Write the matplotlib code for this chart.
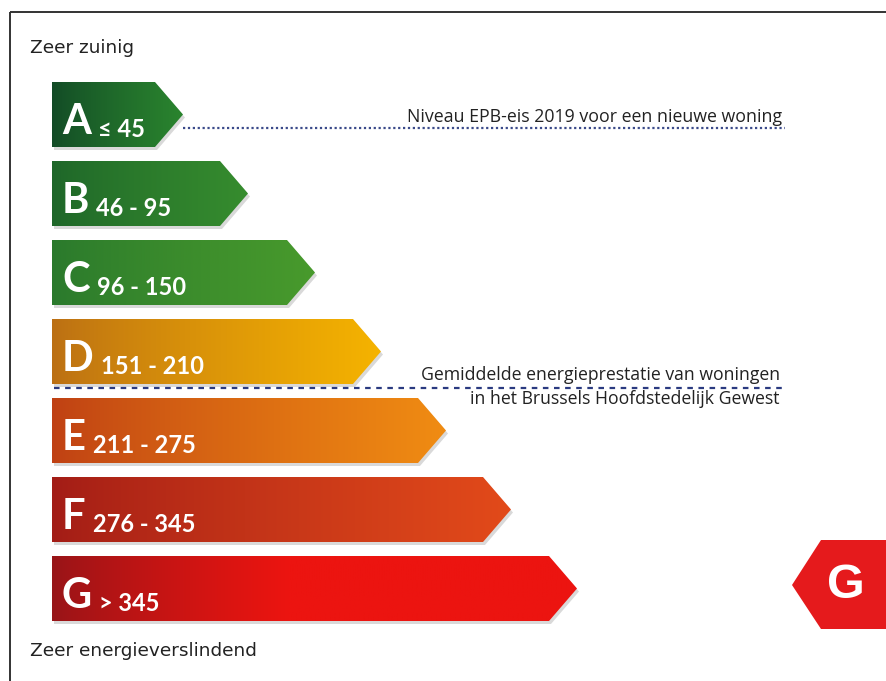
import numpy as np
import matplotlib
matplotlib.use("Agg")
import matplotlib.pyplot as plt
from matplotlib.patches import Polygon
from matplotlib.colors import to_rgb

# ---- data ----
letters = ["A", "B", "C", "D", "E", "F", "G"]
ranges = ["≤ 45", "46 - 95", "96 - 150", "151 - 210", "211 - 275", "276 - 345", "> 345"]
bar_tip_x = [183, 248, 315, 381, 446, 511, 577]   # right tip of each arrow (px)
left_colors = ["#124a26", "#1e6629", "#2a792c", "#bb6f14", "#bf4014", "#a21c16", "#971518"]
right_colors = ["#2a842e", "#368c2e", "#489a2c", "#f5b300", "#f08c12", "#e24a1a", "#ec1410"]
current_label = "G"
title_top = "Zeer zuinig"
title_bottom = "Zeer energieverslindend"
note_a = "Niveau EPB-eis 2019 voor een nieuwe woning"
note_avg = ["Gemiddelde energieprestatie van woningen", "in het Brussels Hoofdstedelijk Gewest"]

W, H = 887, 681
fig = plt.figure(figsize=(W / 100, H / 100), dpi=100)
ax = fig.add_axes([0, 0, 1, 1])
ax.set_xlim(0, W)
ax.set_ylim(H, 0)
ax.axis("off")

fam = ["Lato", "DejaVu Sans"]
fam_note = ["Open Sans", "DejaVu Sans"]

# frame
ax.plot([10, W], [12, 12], color="#333333", lw=1.4, solid_capstyle="butt")
ax.plot([10, 10], [12, H], color="#333333", lw=1.4, solid_capstyle="butt")

x0 = 52
top0 = 82
pitch = 79
bh = 65
tip = 28

for i, (L, r, tx) in enumerate(zip(letters, ranges, bar_tip_x)):
    top = top0 + i * pitch
    bot = top + bh
    mid = (top + bot) / 2
    pts = [(x0, top), (tx - tip, top), (tx, mid), (tx - tip, bot), (x0, bot)]
    # shadow
    sh = Polygon([(px + 2, py + 3) for px, py in pts], closed=True,
                 facecolor="#000000", alpha=0.15, edgecolor="none", zorder=1)
    ax.add_patch(sh)
    poly = Polygon(pts, closed=True, facecolor="none", edgecolor="none", zorder=2)
    ax.add_patch(poly)
    c1 = np.array(to_rgb(left_colors[i]))
    c2 = np.array(to_rgb(right_colors[i]))
    t = np.linspace(0, 1, 256)
    if L == "G":
        t = np.clip(t / 0.45, 0, 1)
    t = t ** 0.8
    grad = c1[None, :] * (1 - t[:, None]) + c2[None, :] * t[:, None]
    im = ax.imshow(grad[None, :, :], extent=[x0, tx, bot, top], aspect="auto",
                   interpolation="bilinear", zorder=2)
    im.set_clip_path(poly)
    lt = ax.text(x0 + 10, bot - 13, L, color="white", fontsize=30, fontweight="bold",
                 family=fam, va="baseline", ha="left", zorder=3)
    ax.annotate(r, xy=(1, 0), xycoords=lt, xytext=(5, 0), textcoords="offset points",
                color="white", fontsize=17, fontweight="bold", family=fam,
                va="bottom", ha="left", zorder=3)

# annotation lines
ax.plot([183, 785], [128, 128], color="#3a4a8a", lw=1.6, linestyle=(0, (1, 1.2)), zorder=4)
ax.text(782, 122, note_a, fontsize=12.8, family=fam_note, ha="right", va="baseline", color="#222222")

ax.plot([54, 785], [388, 388], color="#2a3a80", lw=1.6, linestyle=(0, (2.5, 2.5)), zorder=4)
ax.text(780, 380, note_avg[0], fontsize=12.7, family=fam_note, ha="right", va="baseline", color="#222222")
ax.text(780, 404, note_avg[1], fontsize=12.7, family=fam_note, ha="right", va="baseline", color="#222222")

# titles
ax.text(30, 53, title_top, fontsize=13.3, family=["DejaVu Sans"], ha="left", va="baseline", color="#222222")
ax.text(30, 656, title_bottom, fontsize=13.3, family=["DejaVu Sans"], ha="left", va="baseline", color="#222222")

# current label indicator
gpts = [(792, 585), (821, 540), (W + 5, 540), (W + 5, 629), (821, 629)]
ax.add_patch(Polygon(gpts, closed=True, facecolor="#e51a1c", edgecolor="none", zorder=2))
ax.text(846, 586, current_label, color="white", fontsize=35, fontweight="bold",
        family=["Liberation Sans", "DejaVu Sans"], ha="center", va="center", zorder=3)

fig.savefig("out.png", dpi=100)
